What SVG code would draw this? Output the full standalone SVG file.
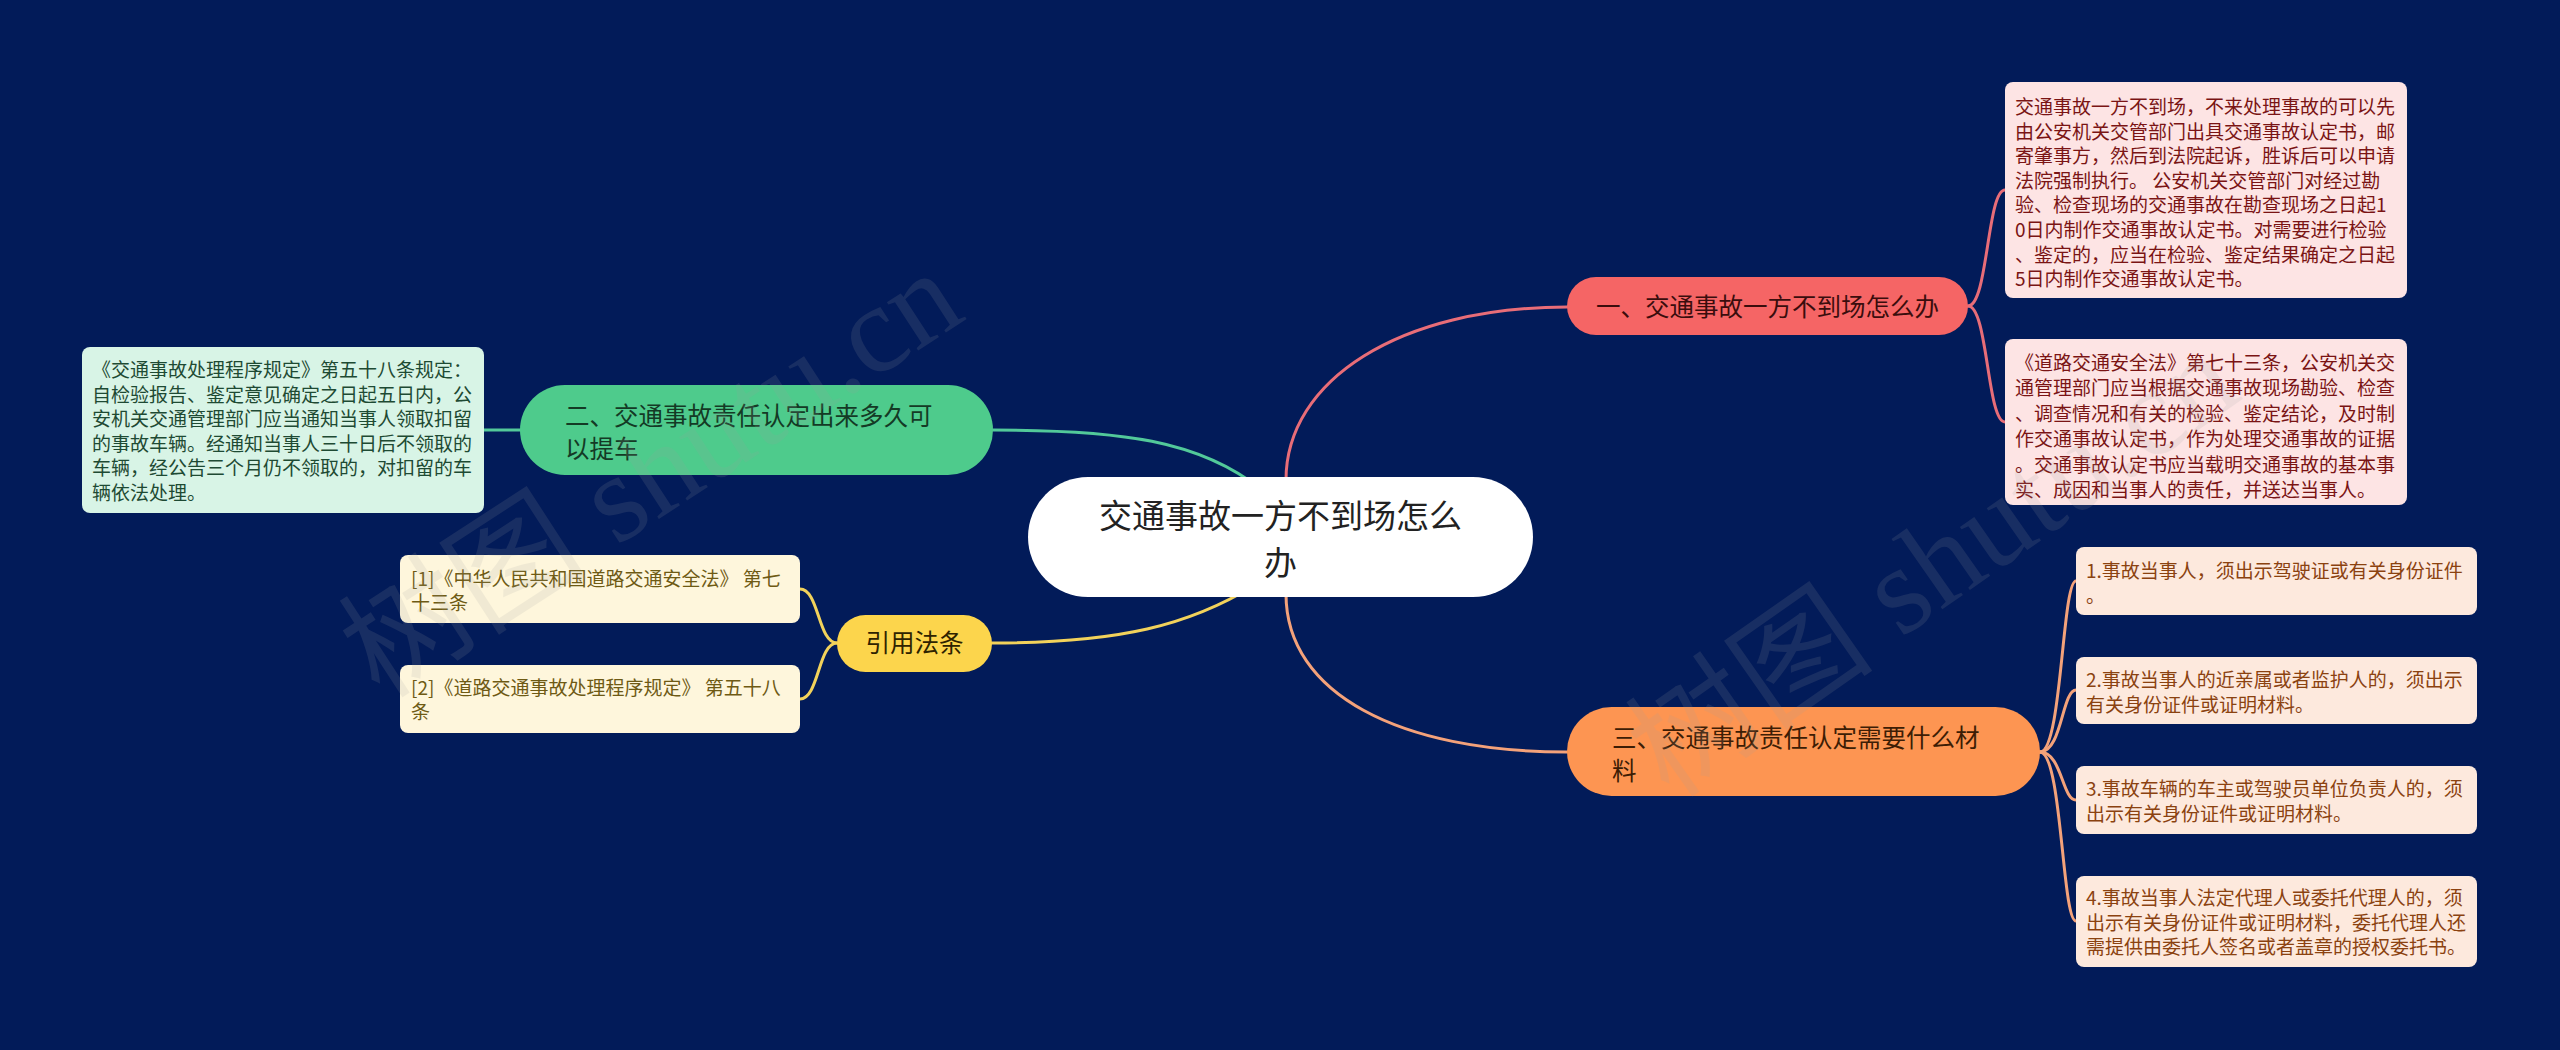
<svg xmlns="http://www.w3.org/2000/svg" width="2560" height="1050" viewBox="0 0 2560 1050">
<style>
text{font-family:"Noto Sans CJK SC","Noto Sans",sans-serif}
.leaf{font-size:19px}
.main{font-size:24.5px}
.c{fill:none;stroke-width:3;stroke-linecap:round}
.wm{font-family:"Liberation Serif","Noto Sans CJK SC",serif;font-size:125px;fill:#a0a0a0;opacity:0.14}
</style>
<rect width="2560" height="1050" fill="#021b59"/>
<g id="connectors">
<path class="c" stroke="#e86d78" d="M1286 480 C1286 380 1400 307 1567 307"/>
<path class="c" stroke="#f4a27a" d="M1286 594 C1286 694 1400 752 1567 752"/>
<path class="c" stroke="#52c99a" d="M993 430 C1120 430 1200 440 1262 490"/>
<path class="c" stroke="#f2d25b" d="M992 643 C1120 643 1190 625 1255 585"/>
<path class="c" stroke="#e86d78" d="M1968 306 C1988 306 1987 190 2005 190"/>
<path class="c" stroke="#e86d78" d="M1968 306 C1988 306 1987 422 2005 422"/>
<path class="c" stroke="#52c99a" d="M521 430 L484 430"/>
<path class="c" stroke="#f2d25b" d="M837 643 C818 643 819 589 800 589"/>
<path class="c" stroke="#f2d25b" d="M837 643 C818 643 819 699 800 699"/>
<path class="c" stroke="#f4a27a" d="M2040 752 C2062 752 2062 581 2076 581"/>
<path class="c" stroke="#f4a27a" d="M2040 752 C2062 752 2062 690 2076 690"/>
<path class="c" stroke="#f4a27a" d="M2040 752 C2062 752 2062 800 2076 800"/>
<path class="c" stroke="#f4a27a" d="M2040 752 C2062 752 2062 921 2076 921"/>
</g>
<g id="root">
<rect x="1028" y="477" width="505" height="120" rx="60" fill="#ffffff"/>
<text x="1280.5" y="527.5" font-size="33" fill="#222" text-anchor="middle">交通事故一方不到场怎么</text>
<text x="1280.5" y="574.5" font-size="33" fill="#222" text-anchor="middle">办</text>
</g>
<g id="branch1">
<rect x="1567" y="277" width="401" height="58" rx="29" fill="#f56565"/>
<text class="main" x="1767.5" y="316" fill="#3a0d0d" text-anchor="middle">一、交通事故一方不到场怎么办</text>
</g>
<g id="leaf1a">
<rect x="2005" y="82" width="402" height="216" rx="8" fill="#fde4e4"/>
<text class="leaf" fill="#7a1414">
<tspan x="2015" y="114">交通事故一方不到场，不来处理事故的可以先</tspan>
<tspan x="2015" y="138.6">由公安机关交管部门出具交通事故认定书，邮</tspan>
<tspan x="2015" y="163.2">寄肇事方，然后到法院起诉，胜诉后可以申请</tspan>
<tspan x="2015" y="187.8">法院强制执行。 公安机关交管部门对经过勘</tspan>
<tspan x="2015" y="212.4">验、检查现场的交通事故在勘查现场之日起1</tspan>
<tspan x="2015" y="237">0日内制作交通事故认定书。对需要进行检验</tspan>
<tspan x="2015" y="261.6">、鉴定的，应当在检验、鉴定结果确定之日起</tspan>
<tspan x="2015" y="286.2">5日内制作交通事故认定书。</tspan>
</text>
</g>
<g id="leaf1b">
<rect x="2005" y="339" width="402" height="166" rx="8" fill="#fde4e4"/>
<text class="leaf" fill="#7a1414">
<tspan x="2015" y="370">《道路交通安全法》第七十三条，公安机关交</tspan>
<tspan x="2015" y="395.4">通管理部门应当根据交通事故现场勘验、检查</tspan>
<tspan x="2015" y="420.8">、调查情况和有关的检验、鉴定结论，及时制</tspan>
<tspan x="2015" y="446.2">作交通事故认定书，作为处理交通事故的证据</tspan>
<tspan x="2015" y="471.6">。交通事故认定书应当载明交通事故的基本事</tspan>
<tspan x="2015" y="497">实、成因和当事人的责任，并送达当事人。</tspan>
</text>
</g>
<g id="branch2">
<rect x="520" y="385" width="473" height="90" rx="45" fill="#4ecb8c"/>
<text class="main" fill="#143a25">
<tspan x="565" y="424.5">二、交通事故责任认定出来多久可</tspan>
<tspan x="565" y="457.5">以提车</tspan>
</text>
</g>
<g id="leaf2">
<rect x="82" y="347" width="402" height="166" rx="8" fill="#d8f4e6"/>
<text class="leaf" fill="#1e4a33">
<tspan x="92" y="377">《交通事故处理程序规定》第五十八条规定：</tspan>
<tspan x="92" y="401.5">自检验报告、鉴定意见确定之日起五日内，公</tspan>
<tspan x="92" y="426">安机关交通管理部门应当通知当事人领取扣留</tspan>
<tspan x="92" y="450.5">的事故车辆。经通知当事人三十日后不领取的</tspan>
<tspan x="92" y="475">车辆，经公告三个月仍不领取的，对扣留的车</tspan>
<tspan x="92" y="499.5">辆依法处理。</tspan>
</text>
</g>
<g id="branch4">
<rect x="837" y="615" width="155" height="57" rx="28.5" fill="#fcd54c"/>
<text class="main" x="914.5" y="652" fill="#2e2300" text-anchor="middle">引用法条</text>
</g>
<g id="leaf4a">
<rect x="400" y="555" width="400" height="68" rx="8" fill="#fef6dc"/>
<text class="leaf" fill="#6e5a14">
<tspan x="411" y="586">[1]《中华人民共和国道路交通安全法》 第七</tspan>
<tspan x="411" y="610">十三条</tspan>
</text>
</g>
<g id="leaf4b">
<rect x="400" y="665" width="400" height="68" rx="8" fill="#fef6dc"/>
<text class="leaf" fill="#6e5a14">
<tspan x="411" y="695">[2]《道路交通事故处理程序规定》 第五十八</tspan>
<tspan x="411" y="719">条</tspan>
</text>
</g>
<g id="branch3">
<rect x="1567" y="707" width="473" height="89" rx="44.5" fill="#fd9552"/>
<text class="main" fill="#3d1d05">
<tspan x="1612" y="746.5">三、交通事故责任认定需要什么材</tspan>
<tspan x="1612" y="779.5">料</tspan>
</text>
</g>
<g id="leaf3a">
<rect x="2076" y="547" width="401" height="68" rx="8" fill="#fde9dd"/>
<text class="leaf" fill="#8b4210">
<tspan x="2086" y="578">1.事故当事人，须出示驾驶证或有关身份证件</tspan>
<tspan x="2086" y="602.5">。</tspan>
</text>
</g>
<g id="leaf3b">
<rect x="2076" y="657" width="401" height="67" rx="8" fill="#fde9dd"/>
<text class="leaf" fill="#8b4210">
<tspan x="2086" y="687">2.事故当事人的近亲属或者监护人的，须出示</tspan>
<tspan x="2086" y="711.5">有关身份证件或证明材料。</tspan>
</text>
</g>
<g id="leaf3c">
<rect x="2076" y="766" width="401" height="68" rx="8" fill="#fde9dd"/>
<text class="leaf" fill="#8b4210">
<tspan x="2086" y="796">3.事故车辆的车主或驾驶员单位负责人的，须</tspan>
<tspan x="2086" y="820.5">出示有关身份证件或证明材料。</tspan>
</text>
</g>
<g id="leaf3d">
<rect x="2076" y="876" width="401" height="91" rx="8" fill="#fde9dd"/>
<text class="leaf" fill="#8b4210">
<tspan x="2086" y="905">4.事故当事人法定代理人或委托代理人的，须</tspan>
<tspan x="2086" y="929.5">出示有关身份证件或证明材料，委托代理人还</tspan>
<tspan x="2086" y="954">需提供由委托人签名或者盖章的授权委托书。</tspan>
</text>
</g>
<g id="watermarks">
<text class="wm" transform="translate(380 700) rotate(-33)">树图 shutu.cn</text>
<text class="wm" transform="translate(1670 800) rotate(-35)">树图 shutu.cn</text>
</g>
</svg>
